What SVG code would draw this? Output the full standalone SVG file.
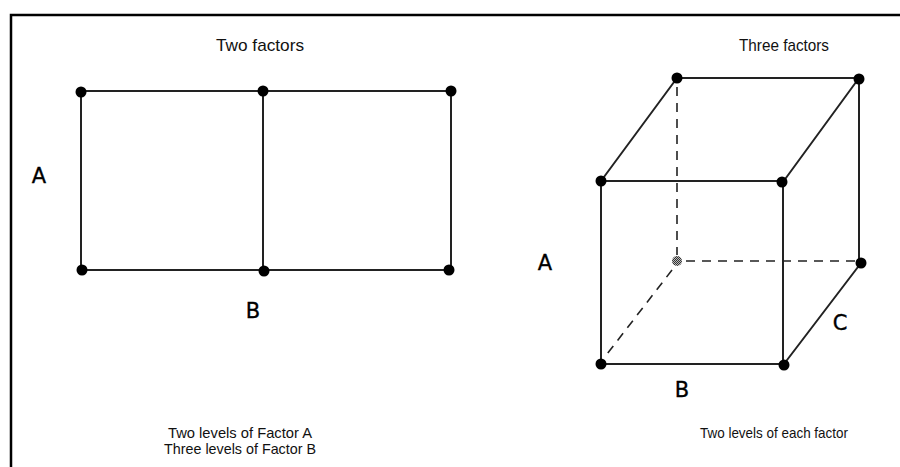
<svg xmlns="http://www.w3.org/2000/svg" width="900" height="467" viewBox="0 0 900 467">
<style>
.t{font-family:"Liberation Sans",Arial,sans-serif;font-size:15px;fill:#111;text-anchor:middle}
.h{font-size:17px}
.l{font-family:"DejaVu Sans",Verdana,sans-serif;font-size:21px;fill:#000;stroke:#000;stroke-width:0.35;text-anchor:middle}
.e{stroke:#222;stroke-width:2;fill:none}
.d{stroke:#222;stroke-width:1.6;fill:none;stroke-dasharray:9 7}
.dot{fill:#000}
</style>
<defs>
<pattern id="stip" width="2" height="2" patternUnits="userSpaceOnUse">
<rect width="2" height="2" fill="#bbb"/>
<rect width="1" height="1" fill="#333"/>
<rect x="1" y="1" width="1" height="1" fill="#333"/>
</pattern>
</defs>
<rect x="11" y="15" width="900" height="470" fill="#fff" stroke="#000" stroke-width="2.5"/>
<text class="t h" x="260" y="51" textLength="88" lengthAdjust="spacingAndGlyphs">Two factors</text>
<text class="t h" x="784" y="51" textLength="90" lengthAdjust="spacingAndGlyphs">Three factors</text>
<text class="t" x="240" y="438" textLength="144" lengthAdjust="spacingAndGlyphs">Two levels of Factor A</text>
<text class="t" x="240" y="454" textLength="152" lengthAdjust="spacingAndGlyphs">Three levels of Factor B</text>
<text class="t" x="774" y="438" textLength="148" lengthAdjust="spacingAndGlyphs">Two levels of each factor</text>
<g id="connectors">
<path class="e" d="M81,91 H451 V270 H81 Z M263,91 V270"/>
<path class="e" d="M677,78 H859 V263 M601,181 L677,78 M783,182 L859,78 M784,364 L861,263 M601,181 H783 V364 H601 Z"/>
<path class="d" d="M677,87 V255 M686,261 H855 M672,270 L604,358"/>
</g>
<g id="grid-nodes">
<circle class="dot" cx="81" cy="92" r="5.5"/>
<circle class="dot" cx="263" cy="91" r="5.5"/>
<circle class="dot" cx="451" cy="91" r="5.5"/>
<circle class="dot" cx="82" cy="270" r="5.5"/>
<circle class="dot" cx="264" cy="271" r="5.5"/>
<circle class="dot" cx="449" cy="270" r="5.5"/>
</g>
<g id="cube-nodes">
<circle class="dot" cx="677" cy="78" r="5.5"/>
<circle class="dot" cx="859" cy="79" r="5.5"/>
<circle class="dot" cx="601" cy="181" r="5.5"/>
<circle class="dot" cx="782" cy="182" r="5.5"/>
<circle cx="677" cy="261" r="5" fill="url(#stip)"/>
<circle class="dot" cx="861" cy="263" r="5.5"/>
<circle class="dot" cx="601" cy="364" r="5.5"/>
<circle class="dot" cx="784" cy="365" r="5.5"/>
</g>
<g id="labels">
<text class="l" x="39" y="183">A</text>
<text class="l" x="253" y="318">B</text>
<text class="l" x="545" y="270">A</text>
<text class="l" x="682" y="397">B</text>
<text class="l" x="840" y="330">C</text>
</g>
</svg>
